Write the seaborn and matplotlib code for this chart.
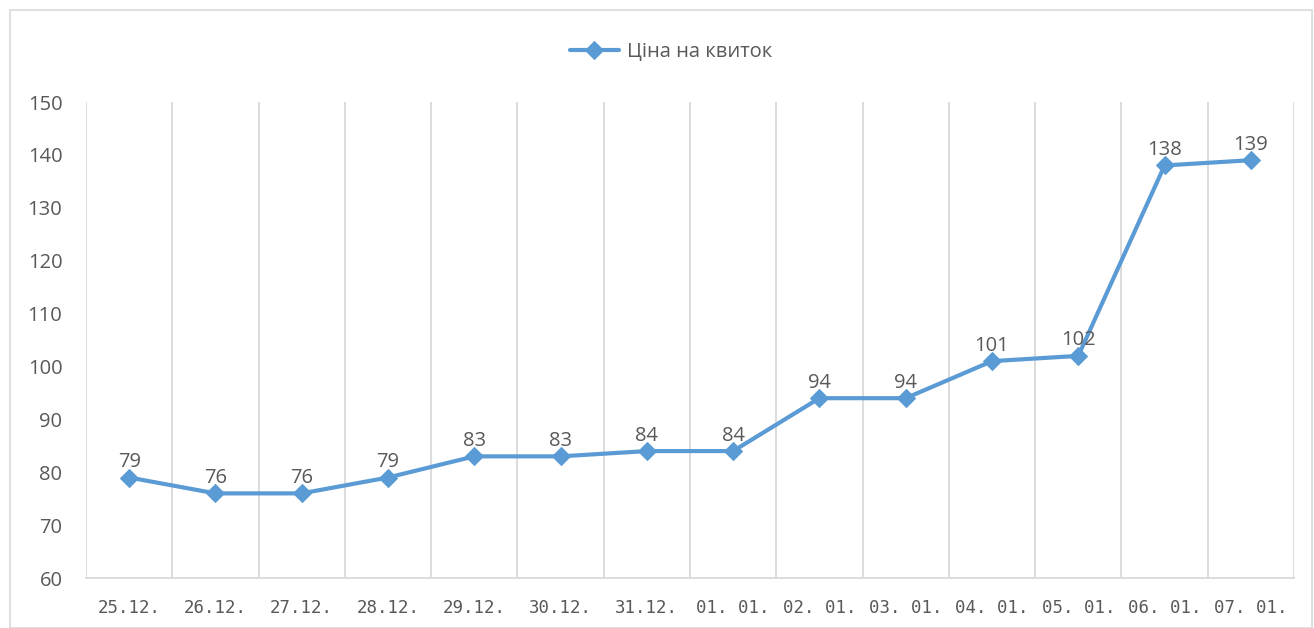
import matplotlib
matplotlib.use("Agg")
import matplotlib.pyplot as plt
import seaborn as sns
import pandas as pd
from matplotlib.patches import Rectangle

dates = ["25.12.", "26.12.", "27.12.", "28.12.", "29.12.", "30.12.", "31.12.",
         "01. 01.", "02. 01.", "03. 01.", "04. 01.", "05. 01.", "06. 01.", "07. 01."]
prices = [79, 76, 76, 79, 83, 83, 84, 84, 94, 94, 101, 102, 138, 139]
series_name = "Ціна на квиток"
y_ticks = [60, 70, 80, 90, 100, 110, 120, 130, 140, 150]

df = pd.DataFrame({"date": dates, "price": prices})

sns.set_style("white")
plt.rcParams["font.family"] = ["Open Sans", "DejaVu Sans"]

W, H = 1314, 628
fig = plt.figure(figsize=(W / 100, H / 100), dpi=100)
ax = fig.add_axes([86 / W, 1 - 578 / H, (1294 - 86) / W, (578 - 102) / H])

color = "#5B9BD5"
sns.lineplot(data=df, x="date", y="price", ax=ax, color=color, linewidth=3.0,
             marker="D", markersize=9, markeredgecolor=color, label=series_name,
             sort=False)

ax.set_xlim(-0.5, len(dates) - 0.5)
ax.set_ylim(60, 150)
ax.set_yticks(y_ticks)
ax.set_xticks(range(len(dates)))
ax.set_xticklabels(dates, fontsize=12.5, color="#595959", family="DejaVu Sans Mono")
ax.tick_params(axis="y", labelsize=14.5, colors="#595959", length=0, pad=17)
ax.tick_params(axis="x", length=0, pad=15)
ax.set_xlabel("")
ax.set_ylabel("")

# vertical gridlines at category boundaries
ax.set_xticks([i - 0.5 for i in range(len(dates) + 1)], minor=True)
ax.grid(which="minor", axis="x", color="#D9D9D9", linewidth=1.3)
ax.grid(which="major", visible=False)

for s in ["top", "right", "left"]:
    ax.spines[s].set_visible(False)
ax.spines["bottom"].set_color("#D9D9D9")
ax.spines["bottom"].set_linewidth(1.3)

for i, v in enumerate(prices):
    ax.annotate(str(v), (i, v), xytext=(0, 4), textcoords="offset points",
                ha="center", va="bottom", fontsize=14.5, color="#595959")

leg = ax.legend(loc="center", bbox_to_anchor=(671 / W, 1 - 52 / H), bbox_transform=fig.transFigure,
                frameon=False, fontsize=14.5, handlelength=2.4, handletextpad=0.4)
for t in leg.get_texts():
    t.set_color("#595959")

# chart border
fig.patches.append(Rectangle((10 / W, 0), (1312 - 10) / W, 1 - 10 / H, transform=fig.transFigure,
                             fill=False, edgecolor="#D9D9D9", linewidth=1.2))

fig.savefig("out.png", dpi=100, facecolor="white")
